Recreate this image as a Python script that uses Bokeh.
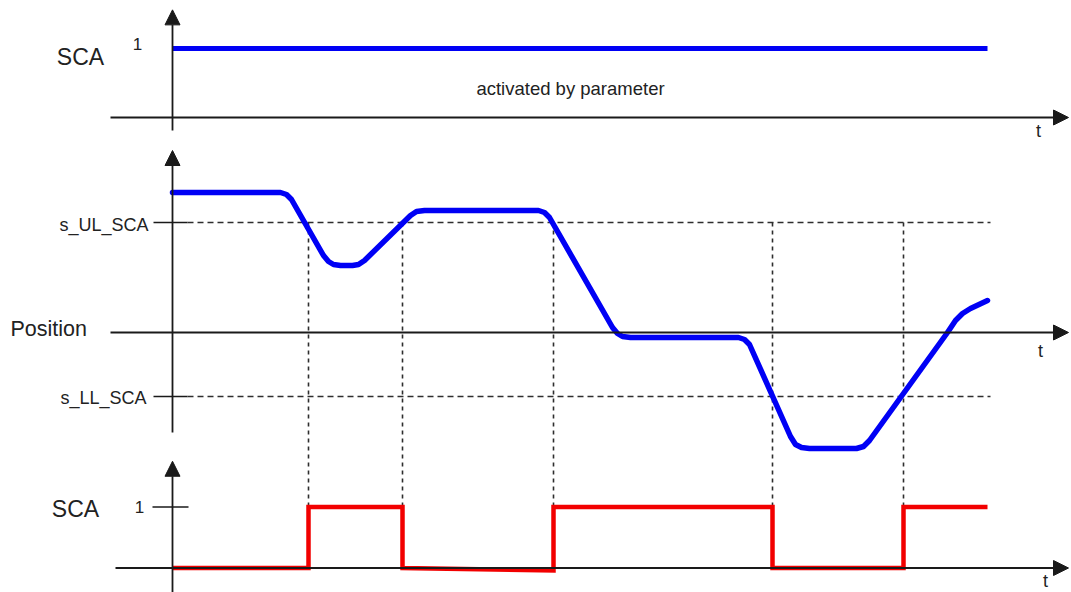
from bokeh.plotting import figure
from bokeh.models import Range1d, Arrow, NormalHead, Label
from bokeh.embed import file_html
from bokeh.resources import INLINE

# ---------------- data ----------------
# top panel: SCA activated by parameter (constant 1)
sca_top_t = [0.0, 8.15]
sca_top_v = [1.0, 1.0]

# middle panel: position curve (time, position)
pos_t = [0.00, 1.08, 1.14, 1.19, 1.51, 1.56, 1.61, 1.68, 1.80, 1.86, 1.92, 2.38,
         2.44, 2.52, 3.66, 3.72, 3.77, 4.40, 4.45, 4.50, 4.58, 5.66, 5.72, 5.77,
         6.18, 6.23, 6.29, 6.37, 6.84, 6.91, 6.97, 7.75, 7.83, 7.90, 7.98, 8.15]
pos_v = [1.40, 1.40, 1.38, 1.33, 0.77, 0.71, 0.68, 0.67, 0.67, 0.68, 0.72, 1.17,
         1.21, 1.22, 1.22, 1.20, 1.15, 0.05, -0.01, -0.04, -0.05, -0.05, -0.07, -0.12,
         -1.04, -1.12, -1.15, -1.16, -1.16, -1.14, -1.08, 0.00, 0.12, 0.19, 0.24, 0.32]
s_UL_SCA = 1.10
s_LL_SCA = -0.64

# bottom panel: SCA output (step signal)
switch_t = [1.36, 2.30, 3.81, 6.00, 7.31]
sca_bot_t = [0.00, 1.36, 1.36, 2.30, 2.30, 3.81, 3.81, 6.00, 6.00, 7.31, 7.31, 8.15]
sca_bot_v = [0.0, 0.0, 1.0, 1.0, 0.0, -0.04, 1.0, 1.0, 0.0, 0.0, 1.0, 1.0]

# ---------------- layout (pixel rows inside the frame) ----------------
W, H = 1071, 592
T_PER_PX = 0.01
x_axis_px = 172          # frame column of t = 0
top_zero_row, top_unit = 117, 69.0
pos_zero_row, pos_unit = 332, 100.0
bot_zero_row, bot_unit = 567.5, 61.0

def rng(zero_row, unit):
    return Range1d(start=(zero_row - H) / unit, end=zero_row / unit)

FONT = "Liberation Sans"
AX = "#1a1a1a"
DASH = "#2e2e2e"
BLUE = "#0000f5"
RED = "#f20000"

p = figure(width=W, height=H, output_backend="svg", toolbar_location=None,
           x_range=Range1d(-x_axis_px * T_PER_PX, (W - x_axis_px) * T_PER_PX),
           y_range=rng(pos_zero_row, pos_unit),
           x_axis_type=None, y_axis_type=None, min_border=0,
           background_fill_color="white", border_fill_color="white")
p.outline_line_color = None
p.xgrid.visible = False
p.ygrid.visible = False
p.extra_y_ranges = {"top": rng(top_zero_row, top_unit), "bot": rng(bot_zero_row, bot_unit)}

# pos-equivalent of bottom panel value 1 (for the vertical guide lines)
row_bot_one = bot_zero_row - 1.0 * bot_unit
pos_at_bot_one = (pos_zero_row - row_bot_one) / pos_unit

# ---------------- guides ----------------
x_end = 8.18
for lvl in (s_UL_SCA, s_LL_SCA):
    p.segment(x0=[0.15], y0=[lvl], x1=[x_end], y1=[lvl], line_color=DASH,
              line_width=1.6, line_dash="6 4")
    p.segment(x0=[-0.19], y0=[lvl], x1=[0.15], y1=[lvl], line_color=AX, line_width=1.6)

p.segment(x0=switch_t, y0=[s_UL_SCA] * len(switch_t), x1=switch_t,
          y1=[pos_at_bot_one] * len(switch_t), line_color=DASH, line_width=1.6,
          line_dash="4 4")

p.segment(x0=[-0.20], y0=[1.0], x1=[0.16], y1=[1.0], line_color=AX, line_width=1.6,
          y_range_name="bot")

# ---------------- axes (arrows) ----------------
def arrow(x0, y0, x1, y1, yr):
    p.add_layout(Arrow(end=NormalHead(size=15, fill_color=AX, line_color=AX, line_width=1),
                       x_start=x0, y_start=y0, x_end=x1, y_end=y1,
                       line_color=AX, line_width=1.8, y_range_name=yr))

tip_x = 8.96
arrow(0, -0.19, 0, 1.56, "top")
arrow(-0.62, 0, tip_x, 0, "top")
arrow(0, -1.00, 0, 1.82, "default")
arrow(-0.62, 0, tip_x, 0, "default")
arrow(0, -0.40, 0, 1.75, "bot")
arrow(-0.57, 0, tip_x, 0, "bot")

# ---------------- signals ----------------
p.line(sca_top_t, sca_top_v, line_color=BLUE, line_width=5, y_range_name="top")
p.line(pos_t, pos_v, line_color=BLUE, line_width=5.5, line_join="round", line_cap="round")
p.line(sca_bot_t, sca_bot_v, line_color=RED, line_width=4.5, line_join="miter",
       y_range_name="bot")

# ---------------- labels ----------------
def lab(x, y, text, yr="default", size=17, align="center"):
    p.add_layout(Label(x=x, y=y, text=text, y_range_name=yr, text_font=FONT,
                       text_font_size=f"{size}px", text_color="#222222",
                       text_align=align, text_baseline="middle"))

lab(-0.92, 0.87, "SCA", "top", 23)
lab(-0.35, 1.06, "1", "top", 17)
lab(3.98, 0.42, "activated by parameter", "top", 18.5)
lab(8.66, -0.19, "t", "top", 18)

lab(-0.24, 1.08, "s_UL_SCA", "default", 18, "right")
lab(-0.26, -0.65, "s_LL_SCA", "default", 18, "right")
lab(-1.62, 0.04, "Position", "default", 21.5, "left")
lab(8.68, -0.18, "t", "default", 18)

lab(-0.97, 0.96, "SCA", "bot", 23)
lab(-0.33, 1.0, "1", "bot", 17)
lab(8.73, -0.22, "t", "bot", 18)

open("out.html", "w").write(file_html(p, INLINE))
